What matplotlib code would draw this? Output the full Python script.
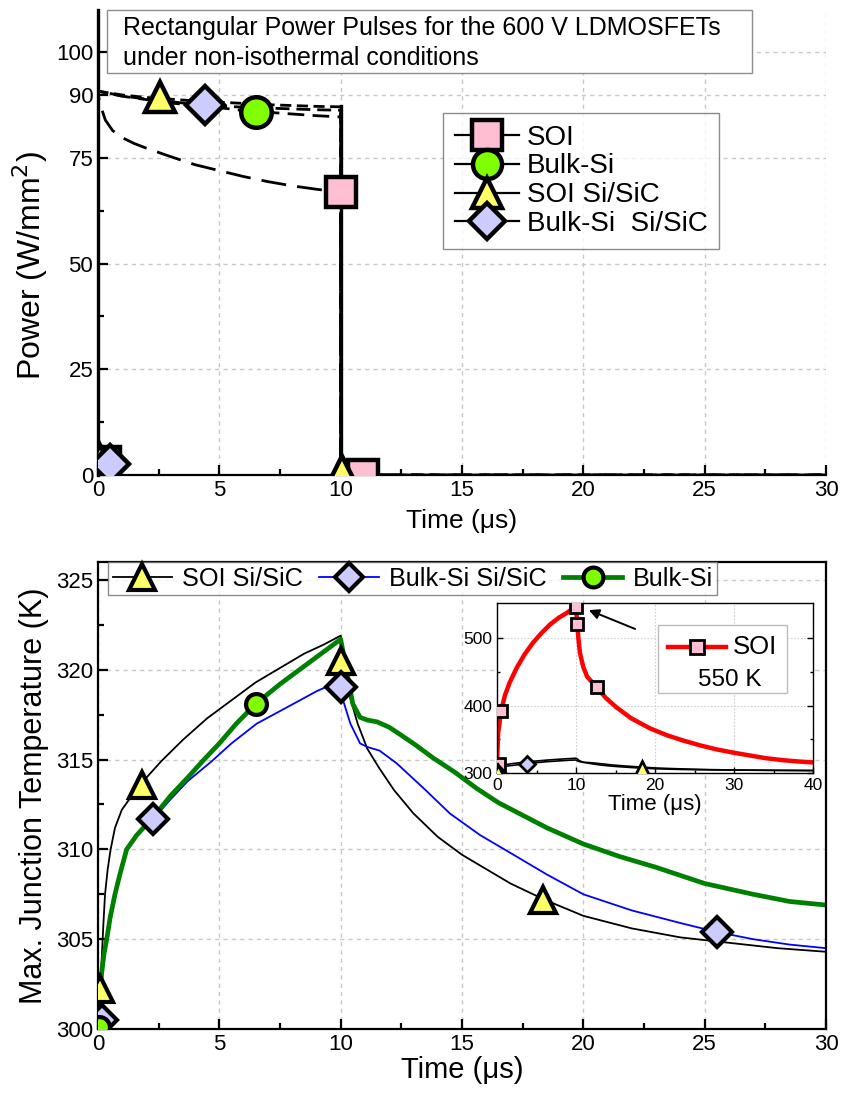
import matplotlib
matplotlib.use("Agg")
import matplotlib.pyplot as plt
from matplotlib.lines import Line2D
from matplotlib.patches import Rectangle
from matplotlib.ticker import MultipleLocator, FixedLocator

plt.rcParams['font.family'] = ['Liberation Sans', 'DejaVu Sans']

# ---------------- Power pulses (top panel) ----------------
soi_t = [0, 0, 0.1, 0.3, 0.6, 1, 1.5, 2, 3, 4, 5, 6, 7, 8, 9, 10, 10, 30]
soi_p = [0, 90, 87.5, 84, 81.5, 79.8, 78.4, 77.3, 75.3, 73.4, 72.0, 70.6, 69.4, 68.4, 67.6, 66.9, 0, 0]

bulk_t = [0, 0, 0.5, 1, 2, 3, 4, 5, 6, 7, 8, 9, 10, 10, 30]
bulk_p = [0, 90.8, 90.2, 89.6, 88.8, 88.0, 87.4, 86.9, 86.2, 85.8, 85.4, 85.0, 84.7, 0, 0]

soisic_t = [0, 0, 1, 2, 3, 4, 5, 6, 7, 8, 9, 10, 10, 30]
soisic_p = [0, 90.8, 89.9, 89.3, 88.9, 88.5, 88.2, 87.9, 87.6, 87.4, 87.2, 87.1, 0, 0]

bulksic_t = [0, 0, 1, 2, 3, 4, 5, 6, 7, 8, 9, 10, 10, 30]
bulksic_p = [0, 90.8, 89.7, 88.9, 88.3, 87.7, 87.3, 87.0, 86.8, 86.6, 86.4, 86.3, 0, 0]

# marker positions on the power curves
soi_mk_t, soi_mk_p = [0.3, 10.0, 10.9], [3.0, 66.9, 0.0]
bulk_mk_t, bulk_mk_p = [0.0, 6.5], [1.9, 85.9]
soisic_mk_t, soisic_mk_p = [0.1, 2.55, 10.05], [3.5, 89.4, 1.0]
bulksic_mk_t, bulksic_mk_p = [0.5, 4.4], [2.6, 87.5]

power_yticks = [0, 25, 50, 75, 90, 100]

# ---------------- Junction temperature (bottom panel) ----------------
soisic_tt = [0, 0.03, 0.08, 0.15, 0.22, 0.29, 0.4, 0.52, 0.7, 0.98, 1.4, 1.8, 2.6, 3.5,
             4.5, 5.5, 6.5, 7.5, 8.5, 9.3, 10, 10.2, 10.4, 10.7, 11.1, 11.6, 12.2, 13,
             14, 15, 16, 17, 18.4, 20, 22, 24, 26, 28, 30, 35, 40]
soisic_T = [300, 301, 302, 303.8, 305.8, 307.5, 308.9, 310.0, 311.2, 312.2, 313.0, 313.7,
            314.9, 316.1, 317.3, 318.3, 319.3, 320.1, 320.9, 321.4, 321.9, 320.5, 318.4,
            317.0, 315.6, 314.5, 313.3, 312.0, 310.7, 309.7, 308.9, 308.1, 307.2, 306.3,
            305.6, 305.1, 304.8, 304.5, 304.3, 303.9, 303.6]

bulksic_tt = [0, 0.04, 0.08, 0.15, 0.25, 0.36, 0.5, 0.7, 0.9, 1.18, 1.6, 2.28, 3, 3.7,
              4.68, 5.5, 6.54, 7.5, 8.32, 9.0, 9.5, 10, 10.1, 10.4, 10.8, 11.1, 11.6,
              12.3, 13.5, 14.5, 15.74, 17, 18.5, 20, 22, 24, 25.5, 27, 28.5, 30, 35, 40]
bulksic_T = [300, 301, 302, 303.1, 304.2, 305.0, 306.2, 307.5, 308.6, 310.0, 310.8, 311.7,
             312.8, 313.8, 314.9, 315.9, 317.0, 317.7, 318.3, 318.8, 319.1, 319.2, 318.3,
             317.0, 315.9, 315.7, 315.5, 314.8, 313.3, 312.0, 310.8, 309.8, 308.6, 307.5,
             306.6, 305.9, 305.4, 305.0, 304.7, 304.5, 304.0, 303.7]

bulksi_tt = [0, 0.04, 0.08, 0.15, 0.25, 0.36, 0.5, 0.7, 0.9, 1.18, 1.6, 2.28, 3, 3.7, 4.3,
             5, 5.7, 6.5, 7.5, 8.5, 9.3, 10, 10.25, 10.5, 10.8, 11.1, 11.5, 12, 12.45,
             13.1, 13.8, 14.7, 15.6, 16.5, 17.5, 18.5, 20, 21.5, 23, 25, 27, 28.5, 30]
bulksi_T = [300, 301, 302, 303.1, 304.2, 305.0, 306.2, 307.5, 308.6, 310.0, 310.8, 311.8,
            313.0, 314.0, 314.9, 315.9, 317.0, 318.1, 319.2, 320.2, 321.0, 321.7, 319.9,
            318.1, 317.35, 317.2, 317.1, 316.8, 316.4, 315.8, 315.1, 314.3, 313.4, 312.6,
            311.9, 311.2, 310.3, 309.6, 309.0, 308.1, 307.5, 307.1, 306.9]

soisic_mk_tt, soisic_mk_T = [0.1, 1.8, 10.0, 18.35], [302.2, 313.6, 320.5, 307.2]
bulksic_mk_tt, bulksic_mk_T = [0.15, 2.28, 10.0, 25.5], [300.5, 311.7, 319.05, 305.4]
bulksi_mk_tt, bulksi_mk_T = [0.05, 6.5], [300.1, 318.1]

# SOI (inset, 550 K peak)
soi_tt = [0, 0.05, 0.15, 0.3, 0.5, 1, 1.6, 2.5, 3.5, 4.55, 5.6, 6.7, 7.8, 8.8, 9.5, 10,
          10.1, 10.3, 10.5, 10.9, 11.4, 12.6, 13.8, 15.1, 17, 19.4, 21.5, 23.6, 25.7,
          27.8, 30, 32, 34, 36.2, 38, 40]
soi_T = [300, 330, 360, 372, 391, 415, 434, 456, 476, 493, 507, 520, 530, 537, 543, 548,
         530, 500, 478, 458, 443, 427, 411, 397.5, 381, 366, 356, 348, 341, 335, 330,
         326, 322, 319, 317.2, 315.7]
soi_mk_tt, soi_mk_T = [0.3, 0.5, 10.0, 10.1, 12.6], [314, 391.6, 546, 521.6, 427]
inset_bulksic_mk = ([0.0, 3.75], [302, 314])
inset_soisic_mk = ([0.1, 18.3], [302, 308])

# ---------------- styles ----------------
C_SQ = '#ffbfd3'
C_CI = '#80ff00'
C_TR = '#ffff66'
C_DI = '#ccccff'
GRID = dict(color='#c8c8c8', linestyle=(0, (3, 3)), linewidth=1.0)

fig = plt.figure(figsize=(8.43, 10.95), dpi=100)
ax1 = fig.add_axes([98 / 843, 1 - 475 / 1095, 728 / 843, 465 / 1095])
ax2 = fig.add_axes([98 / 843, 1 - 1029 / 1095, 728 / 843, 467 / 1095])
ax3 = fig.add_axes([497 / 843, 1 - 773 / 1095, 316 / 843, 170 / 1095])


def style_axes(ax, lw=1.6, labelsize=15, right=False, top=False):
    for s in ['left', 'bottom']:
        ax.spines[s].set_linewidth(lw)
    ax.spines['right'].set_visible(right)
    ax.spines['top'].set_visible(top)
    if right:
        ax.spines['right'].set_linewidth(lw)
    if top:
        ax.spines['top'].set_linewidth(lw)
    ax.tick_params(which='both', direction='in', width=lw, labelsize=labelsize,
                   right=False, top=False)
    ax.tick_params(which='major', length=7)
    ax.tick_params(which='minor', length=4)


# ---- top panel ----
ax = ax1
mk = dict(markersize=22, markeredgewidth=3.2, markeredgecolor='black', linestyle='none', zorder=5)
ax.plot(soi_t, soi_p, color='black', lw=2.0, dashes=(9, 4))
ax.plot(bulk_t, bulk_p, color='black', lw=2.0, dashes=(6, 3))
ax.plot(soisic_t, soisic_p, color='black', lw=2.0, dashes=(4, 2))
ax.plot(bulksic_t, bulksic_p, color='black', lw=2.0, dashes=(5, 2.5))
ax.plot([10, 10], [0, 87.2], color='black', lw=2.4)
ax.plot(soi_mk_t, soi_mk_p, marker='s', markerfacecolor=C_SQ, **mk)
ax.plot(bulk_mk_t, bulk_mk_p, marker='o', markerfacecolor=C_CI, **mk)
ax.plot(soisic_mk_t, soisic_mk_p, marker='^', markerfacecolor=C_TR, **mk)
ax.plot(bulksic_mk_t, bulksic_mk_p, marker='D', markerfacecolor=C_DI,
        **{**mk, 'markersize': 19})
ax.set_xlim(0, 30)
ax.set_ylim(0, 110)
ax.xaxis.set_major_locator(MultipleLocator(5))
ax.xaxis.set_minor_locator(MultipleLocator(2.5))
ax.yaxis.set_major_locator(FixedLocator(power_yticks))
ax.yaxis.set_minor_locator(FixedLocator([12.5, 37.5, 62.5]))
ax.grid(True, which='major', **GRID)
ax.set_axisbelow(True)
style_axes(ax, labelsize=16)
ax.spines['left'].set_linewidth(2.4)
ax.set_xlabel('Time (\u03bcs)', fontsize=19, labelpad=6)
ax.set_ylabel('Power (W/mm$^2$)', fontsize=23)
ax.yaxis.set_label_coords(-0.066, 0.45)

ax.add_patch(Rectangle((9 / 728, 1 - 63 / 465), 645 / 728, 63 / 465, transform=ax.transAxes,
                       facecolor='white', edgecolor='#8c8c8c', lw=1.0, zorder=6, clip_on=False))
ax.text(25 / 728, 1 - 33 / 465,
        'Rectangular Power Pulses for the 600 V LDMOSFETs\nunder non-isothermal conditions',
        transform=ax.transAxes, fontsize=18, va='center', ha='left', linespacing=1.3, zorder=7)

lh = dict(color='black', lw=1.6, markersize=22, markeredgewidth=3.2, markeredgecolor='black')
handles = [Line2D([], [], marker='s', markerfacecolor=C_SQ, **lh),
           Line2D([], [], marker='o', markerfacecolor=C_CI, **lh),
           Line2D([], [], marker='^', markerfacecolor=C_TR, **lh),
           Line2D([], [], marker='D', markerfacecolor=C_DI, **{**lh, 'markersize': 19})]
leg = ax.legend(handles, ['SOI', 'Bulk-Si', 'SOI Si/SiC', 'Bulk-Si  Si/SiC'],
                loc='upper left', bbox_to_anchor=((443 - 98) / 728, (475 - 113) / 465),
                fontsize=20, frameon=True, fancybox=False, edgecolor='#6e6e6e',
                handlelength=2.3, handletextpad=0.3, labelspacing=0.1, borderpad=0.42,
                borderaxespad=0, markerscale=0.95)
leg.get_frame().set_linewidth(1.0)

# ---- bottom panel ----
ax = ax2
mk2 = dict(markeredgewidth=3.0, markeredgecolor='black', linestyle='none', zorder=5)
ax.plot(soisic_tt, soisic_T, color='black', lw=1.3)
ax.plot(bulksic_tt, bulksic_T, color='#0000ff', lw=1.3)
ax.plot(bulksi_tt, bulksi_T, color='#008000', lw=3.4)
ax.plot(soisic_mk_tt, soisic_mk_T, marker='^', markersize=19, markerfacecolor=C_TR, **mk2)
ax.plot(bulksic_mk_tt, bulksic_mk_T, marker='D', markersize=15, markerfacecolor=C_DI, **mk2)
ax.plot(bulksi_mk_tt, bulksi_mk_T, marker='o', markersize=15, markerfacecolor=C_CI, **mk2)
ax.set_xlim(0, 30)
ax.set_ylim(300, 326)
ax.xaxis.set_major_locator(MultipleLocator(5))
ax.xaxis.set_minor_locator(MultipleLocator(2.5))
ax.yaxis.set_major_locator(FixedLocator([300, 305, 310, 315, 320, 325]))
ax.yaxis.set_minor_locator(FixedLocator([302.5, 307.5, 312.5, 317.5, 322.5]))
ax.grid(True, which='major', **GRID)
ax.set_axisbelow(True)
style_axes(ax, labelsize=16, right=True, top=True)
ax.set_xlabel('Time (\u03bcs)', fontsize=21, labelpad=1)
ax.set_ylabel('Max. Junction Temperature (K)', fontsize=22, labelpad=5)

h2 = [Line2D([], [], color='black', lw=1.3, marker='^', markersize=19, markerfacecolor=C_TR,
             markeredgewidth=3.0, markeredgecolor='black'),
      Line2D([], [], color='#0000ff', lw=1.3, marker='D', markersize=15, markerfacecolor=C_DI,
             markeredgewidth=3.0, markeredgecolor='black'),
      Line2D([], [], color='#008000', lw=3.4, marker='o', markersize=15, markerfacecolor=C_CI,
             markeredgewidth=3.0, markeredgecolor='black')]
leg2 = ax.legend(h2, ['SOI Si/SiC', 'Bulk-Si Si/SiC', 'Bulk-Si'], loc='upper left',
                 bbox_to_anchor=((108 - 98) / 728, 1.0), ncol=3, fontsize=18.2,
                 frameon=True, fancybox=False, edgecolor='#6e6e6e', handlelength=2.35,
                 handletextpad=0.4, columnspacing=0.65, borderpad=0.18, borderaxespad=0,
                 markerscale=0.95)
leg2.get_frame().set_linewidth(1.0)

# ---- inset ----
ax = ax3
ax.plot(soisic_tt, soisic_T, color='black', lw=1.2)
ax.plot(bulksic_tt, bulksic_T, color='black', lw=1.2)
ax.plot(soi_tt, soi_T, color='#ff0000', lw=3.2)
mk3 = dict(markeredgewidth=2.0, markeredgecolor='black', linestyle='none', zorder=5)
ax.plot(soi_mk_tt, soi_mk_T, marker='s', markersize=8.5, markerfacecolor=C_SQ, **mk3)
ax.plot(*inset_bulksic_mk, marker='D', markersize=8.5, markerfacecolor=C_DI, **mk3)
ax.plot(*inset_soisic_mk, marker='^', markersize=10, markerfacecolor=C_TR, **mk3)
ax.set_xlim(0, 40)
ax.set_ylim(300, 552)
ax.xaxis.set_major_locator(MultipleLocator(10))
ax.xaxis.set_minor_locator(MultipleLocator(5))
ax.yaxis.set_major_locator(FixedLocator([300, 400, 500]))
ax.yaxis.set_minor_locator(FixedLocator([350, 450]))
ax.grid(True, which='major', color='#d0d0d0', linestyle=(0, (1.5, 1.5)), linewidth=0.8)
style_axes(ax, lw=1.0, labelsize=12.5, right=True, top=True)
ax.tick_params(which='major', length=4)
ax.tick_params(which='minor', length=2.5, right=True)
ax.tick_params(which='major', right=True)
ax.set_xlabel('Time (\u03bcs)', fontsize=16, labelpad=1)
ax.annotate('', xy=(11.3, 543), xytext=(17.8, 512),
            arrowprops=dict(arrowstyle='-|>', color='black', lw=1.4, mutation_scale=15))

# inset key box
ax.add_patch(Rectangle((0.51, 0.47), 0.408, 0.40, transform=ax.transAxes, facecolor='white',
                       edgecolor='#bdbdbd', lw=1.0, zorder=6))
ax.add_line(Line2D([0.54, 0.725], [0.739, 0.739], transform=ax.transAxes, color='#ff0000',
                   lw=3.2, zorder=7))
ax.add_line(Line2D([0.632], [0.739], transform=ax.transAxes, marker='s', markersize=9.5,
                   markerfacecolor=C_SQ, markeredgecolor='black', markeredgewidth=2.0,
                   linestyle='none', zorder=8))
ax.text(0.745, 0.739, 'SOI', transform=ax.transAxes, fontsize=18.5, va='center', ha='left',
        zorder=8)
ax.text(0.735, 0.55, '550 K', transform=ax.transAxes, fontsize=17.5, va='center',
        ha='center', zorder=8)

fig.savefig('out.png', dpi=100)
